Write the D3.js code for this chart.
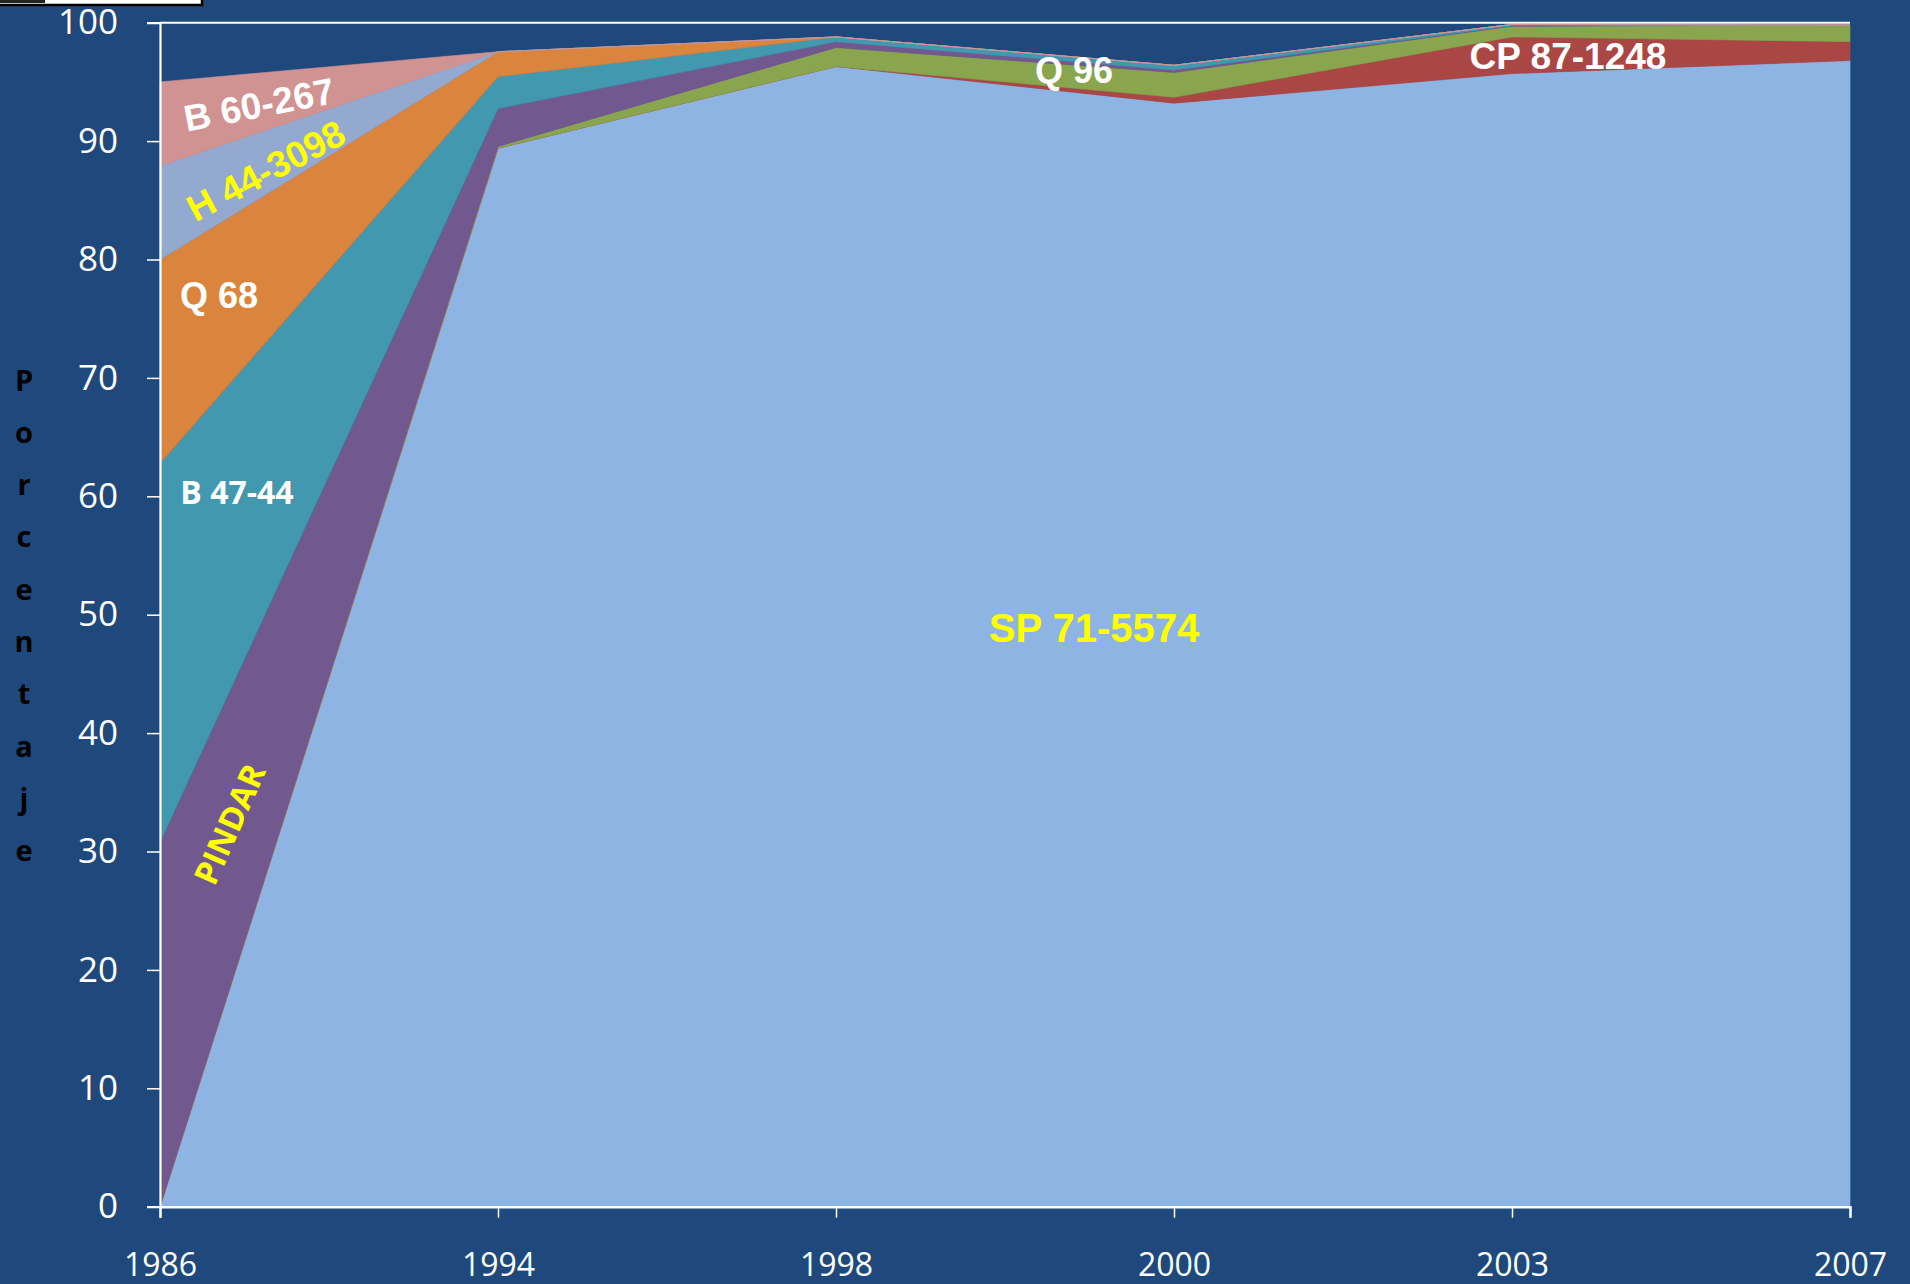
<!DOCTYPE html>
<html>
<head>
<meta charset="utf-8">
<script src="https://cdn.jsdelivr.net/npm/d3@7"></script>
<style>
  body { margin: 0; background: #1F497D; }
  svg { display: block; }
</style>
</head>
<body>
<script>
// data (percent of area per variety)
const years = ["1986", "1994", "1998", "2000", "2003", "2007"];
const sp71 = [0, 89.4, 96.3, 93.2, 95.7, 96.8];
const cp87 = [0, 0, 0, 0.5, 3.1, 1.6];
const q96 = [0, 0.15, 1.6, 2.1, 0.9, 1.4];
const pindar = [30.8, 3.2, 0.5, 0.2, 0.05, 0];
const b4744 = [32.0, 2.7, 0.4, 0.4, 0.1, 0];
const q68 = [17.2, 2.1, 0, 0, 0, 0];
const h44 = [7.9, 0, 0, 0, 0, 0];
const b60 = [7.1, 0, 0, 0, 0, 0];
const yTicks = [0, 10, 20, 30, 40, 50, 60, 70, 80, 90, 100];

const seriesKeys = ["sp71", "cp87", "q96", "pindar", "b4744", "q68", "h44", "b60"];
const seriesColors = ["#8EB4E3", "#AA4643", "#89A54E", "#71588F", "#4198AF", "#DB843D", "#93A9CF", "#D19392"];

const table = years.map((y, i) => ({
  year: y, sp71: sp71[i], cp87: cp87[i], q96: q96[i], pindar: pindar[i],
  b4744: b4744[i], q68: q68[i], h44: h44[i], b60: b60[i]
}));

const w = 1910;
const h = 1284;
const plotLeft = 160, plotRight = 1850, plotTop = 22.7, plotBottom = 1206.7;

const svg = d3.select("body")
              .append("svg")
              .attr("width", w)
              .attr("height", h);

svg.append("rect")
   .attr("width", w)
   .attr("height", h)
   .attr("fill", "#1F497D");

// bit of a clipped picture in the corner
svg.append("rect")
   .attr("x", -2).attr("y", -3)
   .attr("width", 204).attr("height", 8)
   .attr("fill", "#fff")
   .attr("stroke", "#000")
   .attr("stroke-width", 2.5);
svg.append("rect")
   .attr("x", 0).attr("y", 0)
   .attr("width", 45).attr("height", 3)
   .attr("fill", "#222");

const xScale = d3.scalePoint()
                 .domain(years)
                 .range([plotLeft, plotRight]);

const yScale = d3.scaleLinear()
                 .domain([0, 100])
                 .range([plotBottom, plotTop]);

const stack = d3.stack().keys(seriesKeys);
const layers = stack(table);

const area = d3.area()
               .x(d => xScale(d.data.year))
               .y0(d => yScale(d[0]))
               .y1(d => yScale(d[1]));

svg.append("g")
   .selectAll("path")
   .data(layers)
   .enter()
   .append("path")
   .attr("d", area)
   .attr("fill", (d, i) => seriesColors[i])
   .attr("stroke", (d, i) => seriesColors[i])
   .attr("stroke-width", 0.6);

// top line at 100
svg.append("line")
   .attr("x1", plotLeft).attr("x2", plotRight)
   .attr("y1", yScale(100)).attr("y2", yScale(100))
   .attr("stroke", "#fff")
   .attr("stroke-width", 2);

// Axes
const yAxis = d3.axisLeft(yScale)
                .tickValues(yTicks)
                .tickSize(13)
                .tickPadding(29);

const gy = svg.append("g")
   .attr("transform", "translate(" + plotLeft + ",0)")
   .call(yAxis);
gy.select(".domain").attr("stroke", "#fff").attr("stroke-width", 2.2);
gy.selectAll(".tick line").attr("stroke", "#fff").attr("stroke-width", 1.5);
gy.selectAll(".tick text")
  .attr("fill", "#fff")
  .attr("font-family", "Open Sans")
  .attr("font-size", 35);

const xAxis = d3.axisBottom(xScale)
                .tickSize(11)
                .tickPadding(36);

const gx = svg.append("g")
   .attr("transform", "translate(0," + plotBottom + ")")
   .call(xAxis);
gx.select(".domain").attr("stroke", "#fff").attr("stroke-width", 2.4);
gx.selectAll(".tick line").attr("stroke", "#fff").attr("stroke-width", 1.5);
gx.selectAll(".tick text")
  .attr("fill", "#fff")
  .attr("font-family", "Open Sans")
  .attr("font-size", 32);

// Vertical axis title, one letter per row
const yTitle = "Porcentaje".split("");
svg.append("g")
   .selectAll("text")
   .data(yTitle)
   .enter()
   .append("text")
   .attr("x", 24)
   .attr("y", (d, i) => 379 + i * 52.3)
   .attr("text-anchor", "middle")
   .attr("dominant-baseline", "central")
   .attr("font-family", "Open Sans")
   .attr("font-weight", "bold")
   .attr("font-size", 29)
   .attr("fill", "#000")
   .text(d => d);

// Series labels
const labels = [
  { t: "SP 71-5574", x: 1094, y: 628, rot: 0, c: "#FFFF00", f: "Liberation Sans", s: 40 },
  { t: "Q 96", x: 1074, y: 70, rot: 0, c: "#fff", f: "Liberation Sans", s: 36 },
  { t: "CP 87-1248", x: 1568, y: 56, rot: 0, c: "#fff", f: "Liberation Sans", s: 37 },
  { t: "Q 68", x: 219, y: 295, rot: 0, c: "#fff", f: "Liberation Sans", s: 36 },
  { t: "B 47-44", x: 237, y: 491, rot: 0, c: "#fff", f: "Open Sans", s: 32 },
  { t: "B 60-267", x: 259, y: 105, rot: -11, c: "#fff", f: "Liberation Sans", s: 37 },
  { t: "H 44-3098", x: 266, y: 171, rot: -28, c: "#FFFF00", f: "Liberation Sans", s: 37 },
  { t: "PINDAR", x: 229, y: 824, rot: -66, c: "#FFFF00", f: "Open Sans", s: 33 }
];

svg.append("g")
   .selectAll("text")
   .data(labels)
   .enter()
   .append("text")
   .attr("transform", d => "translate(" + d.x + "," + d.y + ") rotate(" + d.rot + ")")
   .attr("text-anchor", "middle")
   .attr("dominant-baseline", "central")
   .attr("font-family", d => d.f)
   .attr("font-weight", "bold")
   .attr("font-size", d => d.s)
   .attr("fill", d => d.c)
   .text(d => d.t);
</script>
</body>
</html>
